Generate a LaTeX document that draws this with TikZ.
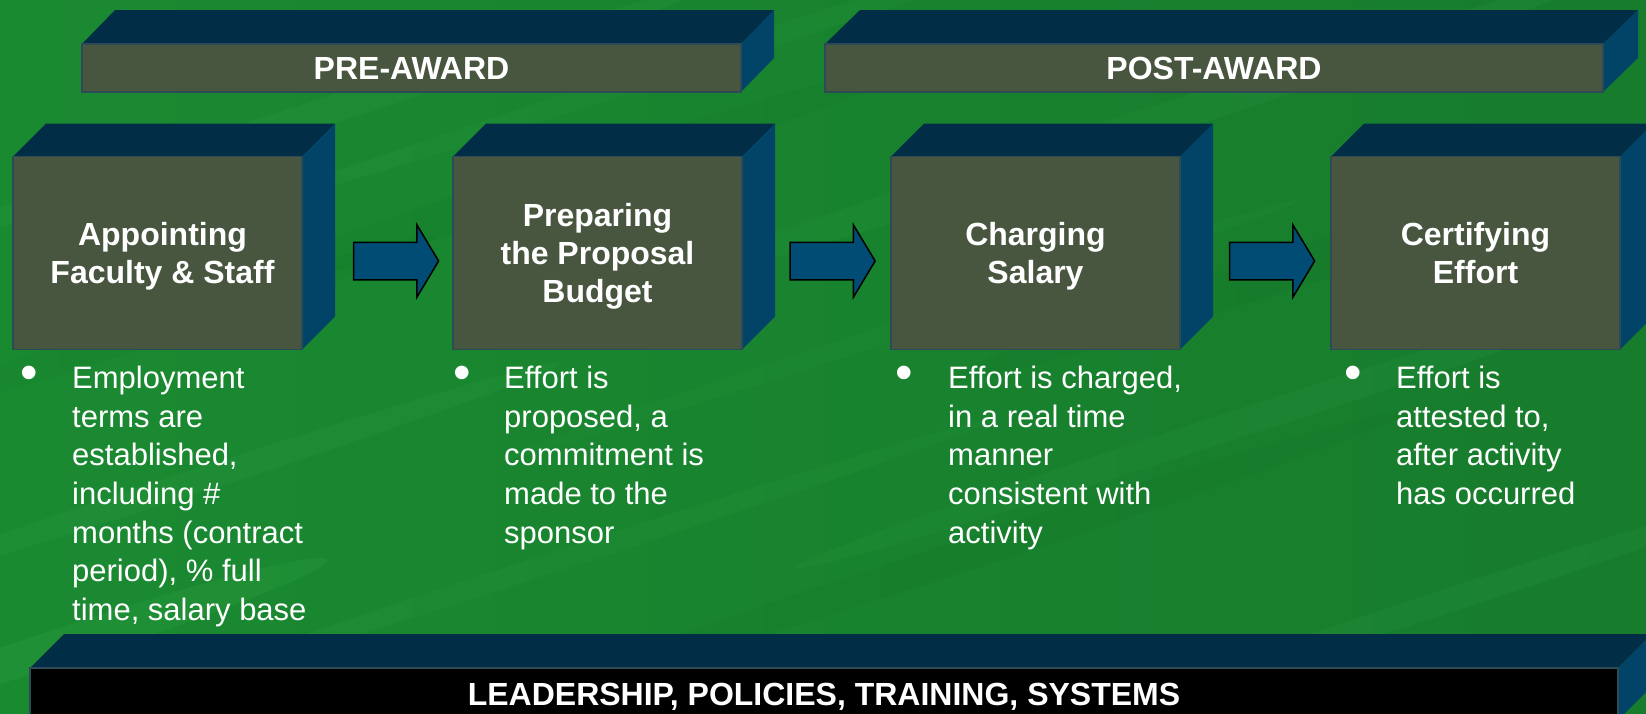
\documentclass[tikz,border=0pt]{standalone}
\usepackage{fontspec}
\setmainfont{Liberation Sans}
\usetikzlibrary{shapes.arrows,backgrounds}
\definecolor{topc}{HTML}{012D46}
\definecolor{sidec}{HTML}{014468}
\definecolor{frontc}{HTML}{485640}
\definecolor{edgec}{HTML}{2C4B57}
\definecolor{arrc}{HTML}{004C75}
\definecolor{bgleft}{HTML}{1A8A31}
\definecolor{bgmid}{HTML}{1F9437}
\definecolor{bgright}{HTML}{177C2C}
\definecolor{bglight}{HTML}{3DB055}
\definecolor{bgdark}{HTML}{0F6A22}
\newcommand{\titlefont}{\fontsize{32}{38}\selectfont\bfseries}
\newcommand{\bulletfont}{\fontsize{31}{38.7}\selectfont}
\newcommand{\prism}[3]{%
  \fill[topc] (#1.north west) -- ++(#2,-#3) -- ([shift={(#2,-#3)}]#1.north east) -- (#1.north east) -- cycle;
  \fill[sidec] (#1.north east) -- ++(#2,-#3) -- ([shift={(#2,-#3)}]#1.south east) -- (#1.south east) -- cycle;}
\begin{document}
\begin{tikzpicture}[x=1pt,y=-1pt,
  face/.style={draw=edgec, line width=1.2pt, fill=frontc, text=white, inner sep=0pt, outer sep=0pt},
  stepbox/.style={face, minimum width=289pt, minimum height=193pt, align=center, font=\titlefont, text depth=0pt},
  phasebar/.style={face, minimum height=48pt, font=\titlefont, text depth=0pt},
  basebar/.style={face, fill=black, minimum height=52pt, font=\titlefont, text depth=0pt},
  blockarrow/.style={single arrow, draw=black, line width=1.5pt, fill=arrc, minimum height=85pt,
    inner xsep=0pt, inner ysep=18pt, single arrow head extend=17.5pt, single arrow tip angle=118,
    single arrow head indent=0pt, outer sep=0pt},
  bullettext/.style={anchor=north west, inner sep=0pt, align=left, text=white, font=\bulletfont},
  bulletdot/.style={inner sep=0pt, text=white, font=\fontsize{50}{50}\selectfont}
]
\useasboundingbox (0,0) rectangle (1646,713);
\begin{scope}[on background layer]
  \clip (0,0) rectangle (1646,713);
  \shade[left color=bgleft, middle color=bgmid, right color=bgright] (0,0) rectangle (1646,713);
  \foreach \cx/\cy/\rx/\ry/\op in {300/120/420/14/0.12, 700/60/500/10/0.10, 1100/140/520/16/0.10,
      200/480/380/12/0.12, 560/560/460/10/0.10, 1250/420/480/14/0.10, 900/330/420/9/0.08,
      1450/600/380/12/0.10, 80/640/260/18/0.16}
    \fill[bglight, opacity=\op, rotate around={18:(\cx,\cy)}] (\cx,\cy) ellipse [x radius=\rx, y radius=\ry];
  \foreach \cx/\cy/\rx/\ry/\op in {500/200/460/18/0.10, 1350/250/420/20/0.12, 950/560/480/16/0.10, 150/330/300/16/0.08}
    \fill[bgdark, opacity=\op, rotate around={18:(\cx,\cy)}] (\cx,\cy) ellipse [x radius=\rx, y radius=\ry];
\end{scope}

% phase bars
\node[phasebar, minimum width=659pt] (pre) at (411.5,68) {PRE-AWARD};
\node[phasebar, minimum width=778pt] (post) at (1214,68) {POST-AWARD};

% process boxes
\node[stepbox] (b1) at (157.5,253) {\hspace*{10pt}Appointing\\\hspace*{10pt}Faculty \& Staff};
\node[stepbox] (b2) at (597.5,253) {Preparing\\the Proposal\\Budget};
\node[stepbox] (b3) at (1035.5,253) {Charging\\Salary};
\node[stepbox] (b4) at (1475.5,253) {Certifying\\Effort};

% arrows
\node[blockarrow] (a1) at (390.5,261) {};
\node[blockarrow] (a2) at (827,261) {};
\node[blockarrow] (a3) at (1266.5,261) {};

% bullets
\node[bulletdot] (d1) at (29,378) {•};
\node[bullettext] (t1) at (72,361) {\strut Employment\\ \strut terms are\\ \strut established,\\ \strut including \#\\ \strut months (contract\\ \strut period), \% full\\ \strut time, salary base};
\node[bulletdot] (d2) at (462,378) {•};
\node[bullettext] (t2) at (504,361) {\strut Effort is\\ \strut proposed, a\\ \strut commitment is\\ \strut made to the\\ \strut sponsor};
\node[bulletdot] (d3) at (904,378) {•};
\node[bullettext] (t3) at (948,361) {\strut Effort is charged,\\ \strut in a real time\\ \strut manner\\ \strut consistent with\\ \strut activity};
\node[bulletdot] (d4) at (1353,378) {•};
\node[bullettext] (t4) at (1396,361) {\strut Effort is\\ \strut attested to,\\ \strut after activity\\ \strut has occurred};

% base bar
\node[basebar, minimum width=1588pt] (base) at (824,694) {LEADERSHIP, POLICIES, TRAINING, SYSTEMS};

\begin{scope}[on background layer]
  \prism{pre}{33}{34}
  \prism{post}{35}{34}
  \prism{b1}{33}{33}
  \prism{b2}{33}{33}
  \prism{b3}{33}{33}
  \prism{b4}{33}{33}
  \prism{base}{34}{34}
\end{scope}
\end{tikzpicture}
\end{document}
